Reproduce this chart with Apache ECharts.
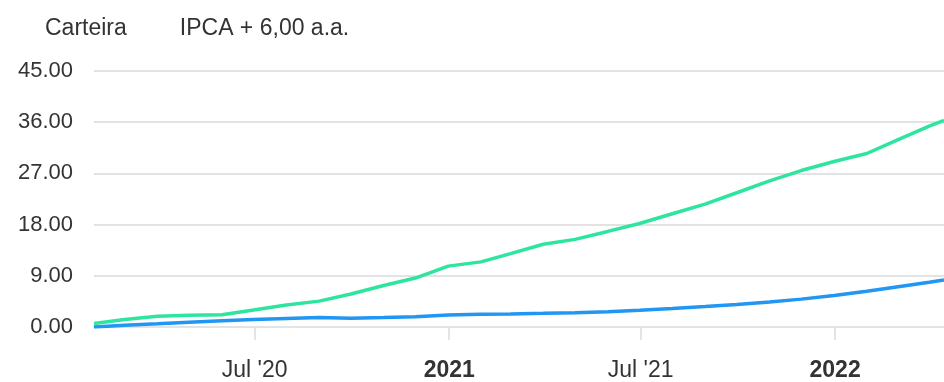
<!DOCTYPE html>
<html>
<head>
<meta charset="utf-8">
<style>
  html, body { margin: 0; padding: 0; background: #ffffff; }
  #chart { width: 944px; height: 382px; }
</style>
<script src="https://cdn.jsdelivr.net/npm/echarts@6/dist/echarts.min.js"></script>
</head>
<body>
<div id="chart"></div>
<script>
// Month-end dates (last point is the latest available day)
const dates = [
  '2020-01-31', '2020-02-29', '2020-03-31', '2020-04-30', '2020-05-31', '2020-06-30',
  '2020-07-31', '2020-08-31', '2020-09-30', '2020-10-31', '2020-11-30', '2020-12-31',
  '2021-01-31', '2021-02-28', '2021-03-31', '2021-04-30', '2021-05-31', '2021-06-30',
  '2021-07-31', '2021-08-31', '2021-09-30', '2021-10-31', '2021-11-30', '2021-12-31',
  '2022-01-31', '2022-02-28', '2022-03-31', '2022-04-14'
];

// Accumulated return of the portfolio (%)
const carteira = [
  0.00, 0.30, 0.55, 0.85, 1.10, 1.30,
  1.50, 1.65, 1.55, 1.65, 1.80, 2.10,
  2.25, 2.30, 2.40, 2.50, 2.70, 2.95,
  3.25, 3.60, 3.95, 4.40, 4.90, 5.55,
  6.30, 7.05, 7.85, 8.25
];

// Accumulated benchmark IPCA + 6% per year (%)
const ipca6 = [
  0.60, 1.30, 1.90, 2.05, 2.15, 3.00,
  3.85, 4.55, 5.80, 7.30, 8.60, 10.70,
  11.45, 12.90, 14.55, 15.40, 16.80, 18.20,
  19.90, 21.60, 23.60, 25.70, 27.50, 29.10,
  30.50, 32.80, 35.30, 36.30
];

// X axis tick dates and their labels (years are drawn bold)
const tickDates = ['2020-07-01', '2021-01-01', '2021-07-01', '2022-01-01'];
const tickLabels = ["Jul '20", '2021', "Jul '21", '2022'];
const yearTicks = ['2021', '2022'];

const seriesNames = ['Carteira', 'IPCA + 6,00 a.a.'];

const FONT = 'Liberation Sans, Arial, sans-serif';
const toTime = d => Date.UTC(+d.slice(0, 4), +d.slice(5, 7) - 1, +d.slice(8, 10));
const tickTimes = tickDates.map(toTime);

const chart = echarts.init(document.getElementById('chart'), null, { renderer: 'canvas' });

chart.setOption({
  animation: false,
  backgroundColor: '#ffffff',
  textStyle: { fontFamily: FONT },
  legend: {
    data: seriesNames,
    left: 34,
    top: 12,
    padding: 5,
    itemWidth: 0,
    itemHeight: 0,
    itemGap: 47,
    selectedMode: false,
    textStyle: { fontSize: 23, color: '#333333', fontFamily: FONT }
  },
  grid: { left: 94, right: 0, top: 71, bottom: 53, containLabel: false },
  xAxis: {
    type: 'value',
    min: toTime(dates[0]),
    max: toTime(dates[dates.length - 1]),
    axisLine: { show: true, lineStyle: { color: '#e3e3e3', width: 2 } },
    axisTick: {
      show: true,
      length: 13,
      lineStyle: { color: '#e3e3e3', width: 2 },
      customValues: tickTimes
    },
    splitLine: { show: false },
    axisLabel: {
      customValues: tickTimes,
      margin: 32,
      fontSize: 23,
      color: '#333333',
      fontFamily: FONT,
      formatter: function (value) {
        const i = tickTimes.indexOf(value);
        const text = i >= 0 ? tickLabels[i] : '';
        return yearTicks.includes(text) ? '{b|' + text + '}' : text;
      },
      rich: {
        b: { fontWeight: 'bold', fontSize: 23, color: '#333333', fontFamily: FONT }
      }
    }
  },
  yAxis: {
    type: 'value',
    min: 0,
    max: 45,
    interval: 9,
    axisLine: { show: false },
    axisTick: { show: false },
    splitLine: { show: true, lineStyle: { color: '#e3e3e3', width: 2 } },
    axisLabel: {
      margin: 21,
      fontSize: 22,
      color: '#333333',
      fontFamily: FONT,
      formatter: v => v.toFixed(2)
    }
  },
  series: [
    {
      name: seriesNames[0],
      type: 'line',
      data: dates.map((d, i) => [toTime(d), carteira[i]]),
      showSymbol: false,
      smooth: false,
      lineStyle: { width: 3.5, color: '#2196f3' },
      itemStyle: { color: '#2196f3' },
      z: 3
    },
    {
      name: seriesNames[1],
      type: 'line',
      data: dates.map((d, i) => [toTime(d), ipca6[i]]),
      showSymbol: false,
      smooth: false,
      lineStyle: { width: 3.5, color: '#2de59f' },
      itemStyle: { color: '#2de59f' },
      z: 2
    }
  ]
});
</script>
</body>
</html>
